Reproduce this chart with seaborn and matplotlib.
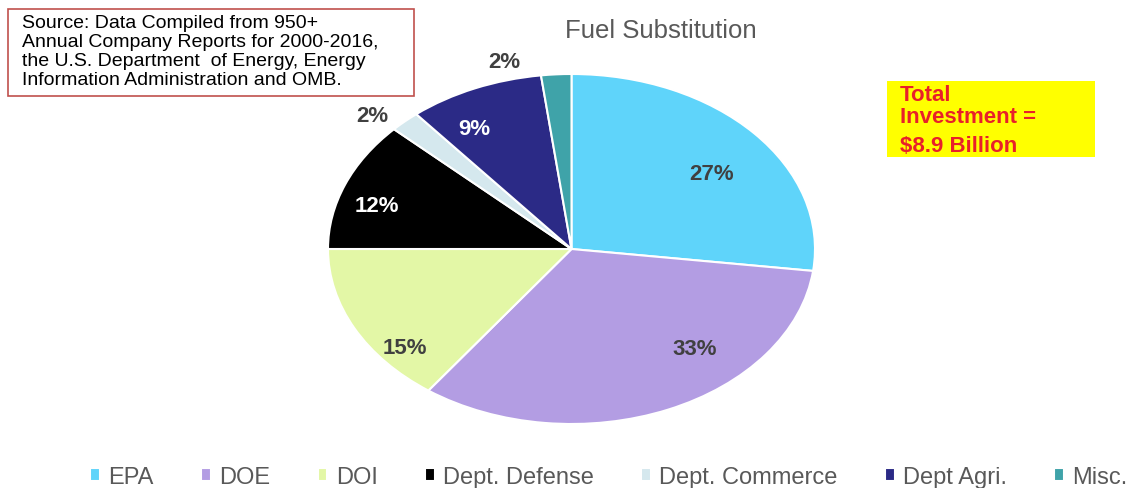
import numpy as np
import matplotlib
matplotlib.use("Agg")
import matplotlib.pyplot as plt
from matplotlib.patches import Rectangle
import seaborn as sns

sns.set_theme(style="white")
plt.rcParams["font.family"] = ["Liberation Sans", "DejaVu Sans"]

# ----------------------------------------------------------------------
# Data
# ----------------------------------------------------------------------
agencies = ["EPA", "DOE", "DOI", "Dept. Defense", "Dept. Commerce", "Dept Agri.", "Misc."]
shares = [27, 33, 15, 12, 2, 9, 2]
colors = ["#5fd4fa", "#b39de3", "#e3f7a6", "#000000", "#d5e8ee", "#2b2a86", "#3fa3a9"]
label_colors = ["#404040", "#404040", "#404040", "white", "#404040", "white", "#404040"]
# label placement: radial distance and angular nudge (deg) from wedge middle
label_dist = [0.73, 0.75, 0.88, 0.84, 1.13, 0.81, 1.12]
label_shift = [-3.6, 18.9, 11.8, 3.3, 3.3, 6.1, 10.6]
total_lines = ["Total", "Investment =", "$8.9 Billion"]

fig = plt.figure(figsize=(11.35, 4.89), dpi=100)
ax = fig.add_axes([328 / 1135, 64 / 489, 487 / 1135, 350 / 489])

wedges, _ = ax.pie(
    shares, colors=colors, startangle=90, counterclock=False,
    wedgeprops=dict(edgecolor="white", linewidth=1.5),
)
ax.set_aspect("auto")
ax.set_xlim(-1, 1)
ax.set_ylim(-1, 1)
ax.axis("off")

for w, s, c, d, sh in zip(wedges, shares, label_colors, label_dist, label_shift):
    ang = np.deg2rad((w.theta1 + w.theta2) / 2 + sh)
    ax.text(d * np.cos(ang), d * np.sin(ang), f"{s}%", ha="center",
            va="center_baseline", fontsize=16, fontweight="bold", color=c)

fig.text(661 / 1135, 1 - 31 / 489, "Fuel Substitution", ha="center", va="center",
         fontsize=18.5, color="#595959")

# source note
fig.patches.append(Rectangle((8 / 1135, 1 - 97 / 489), 406 / 1135, 87 / 489,
                             transform=fig.transFigure, fill=False,
                             edgecolor="#c0504d", linewidth=1.2))
fig.text(22 / 1135, 1 - 52 / 489,
         "Source: Data Compiled from 950+\nAnnual Company Reports for 2000-2016,\n"
         "the U.S. Department  of Energy, Energy\nInformation Administration and OMB.",
         ha="left", va="center", fontsize=14, color="black", linespacing=1.17)

# total box
fig.patches.append(Rectangle((887 / 1135, 1 - 158 / 489), 208 / 1135, 76 / 489,
                             transform=fig.transFigure, facecolor="#ffff00",
                             edgecolor="none"))
for line, ypx in zip(total_lines, [93, 115, 144]):
    fig.text(900 / 1135, 1 - ypx / 489, line, ha="left", va="center_baseline",
             fontsize=16, fontweight="bold", color="#e8202a")

fig.legend(wedges, agencies, loc="center", bbox_to_anchor=(609 / 1135, 1 - 478 / 489),
           ncol=7, frameon=False, fontsize=17, labelcolor="#595959",
           handlelength=0.42, handleheight=0.42, handletextpad=0.35, columnspacing=2.0)

fig.savefig("out.png", dpi=100)
